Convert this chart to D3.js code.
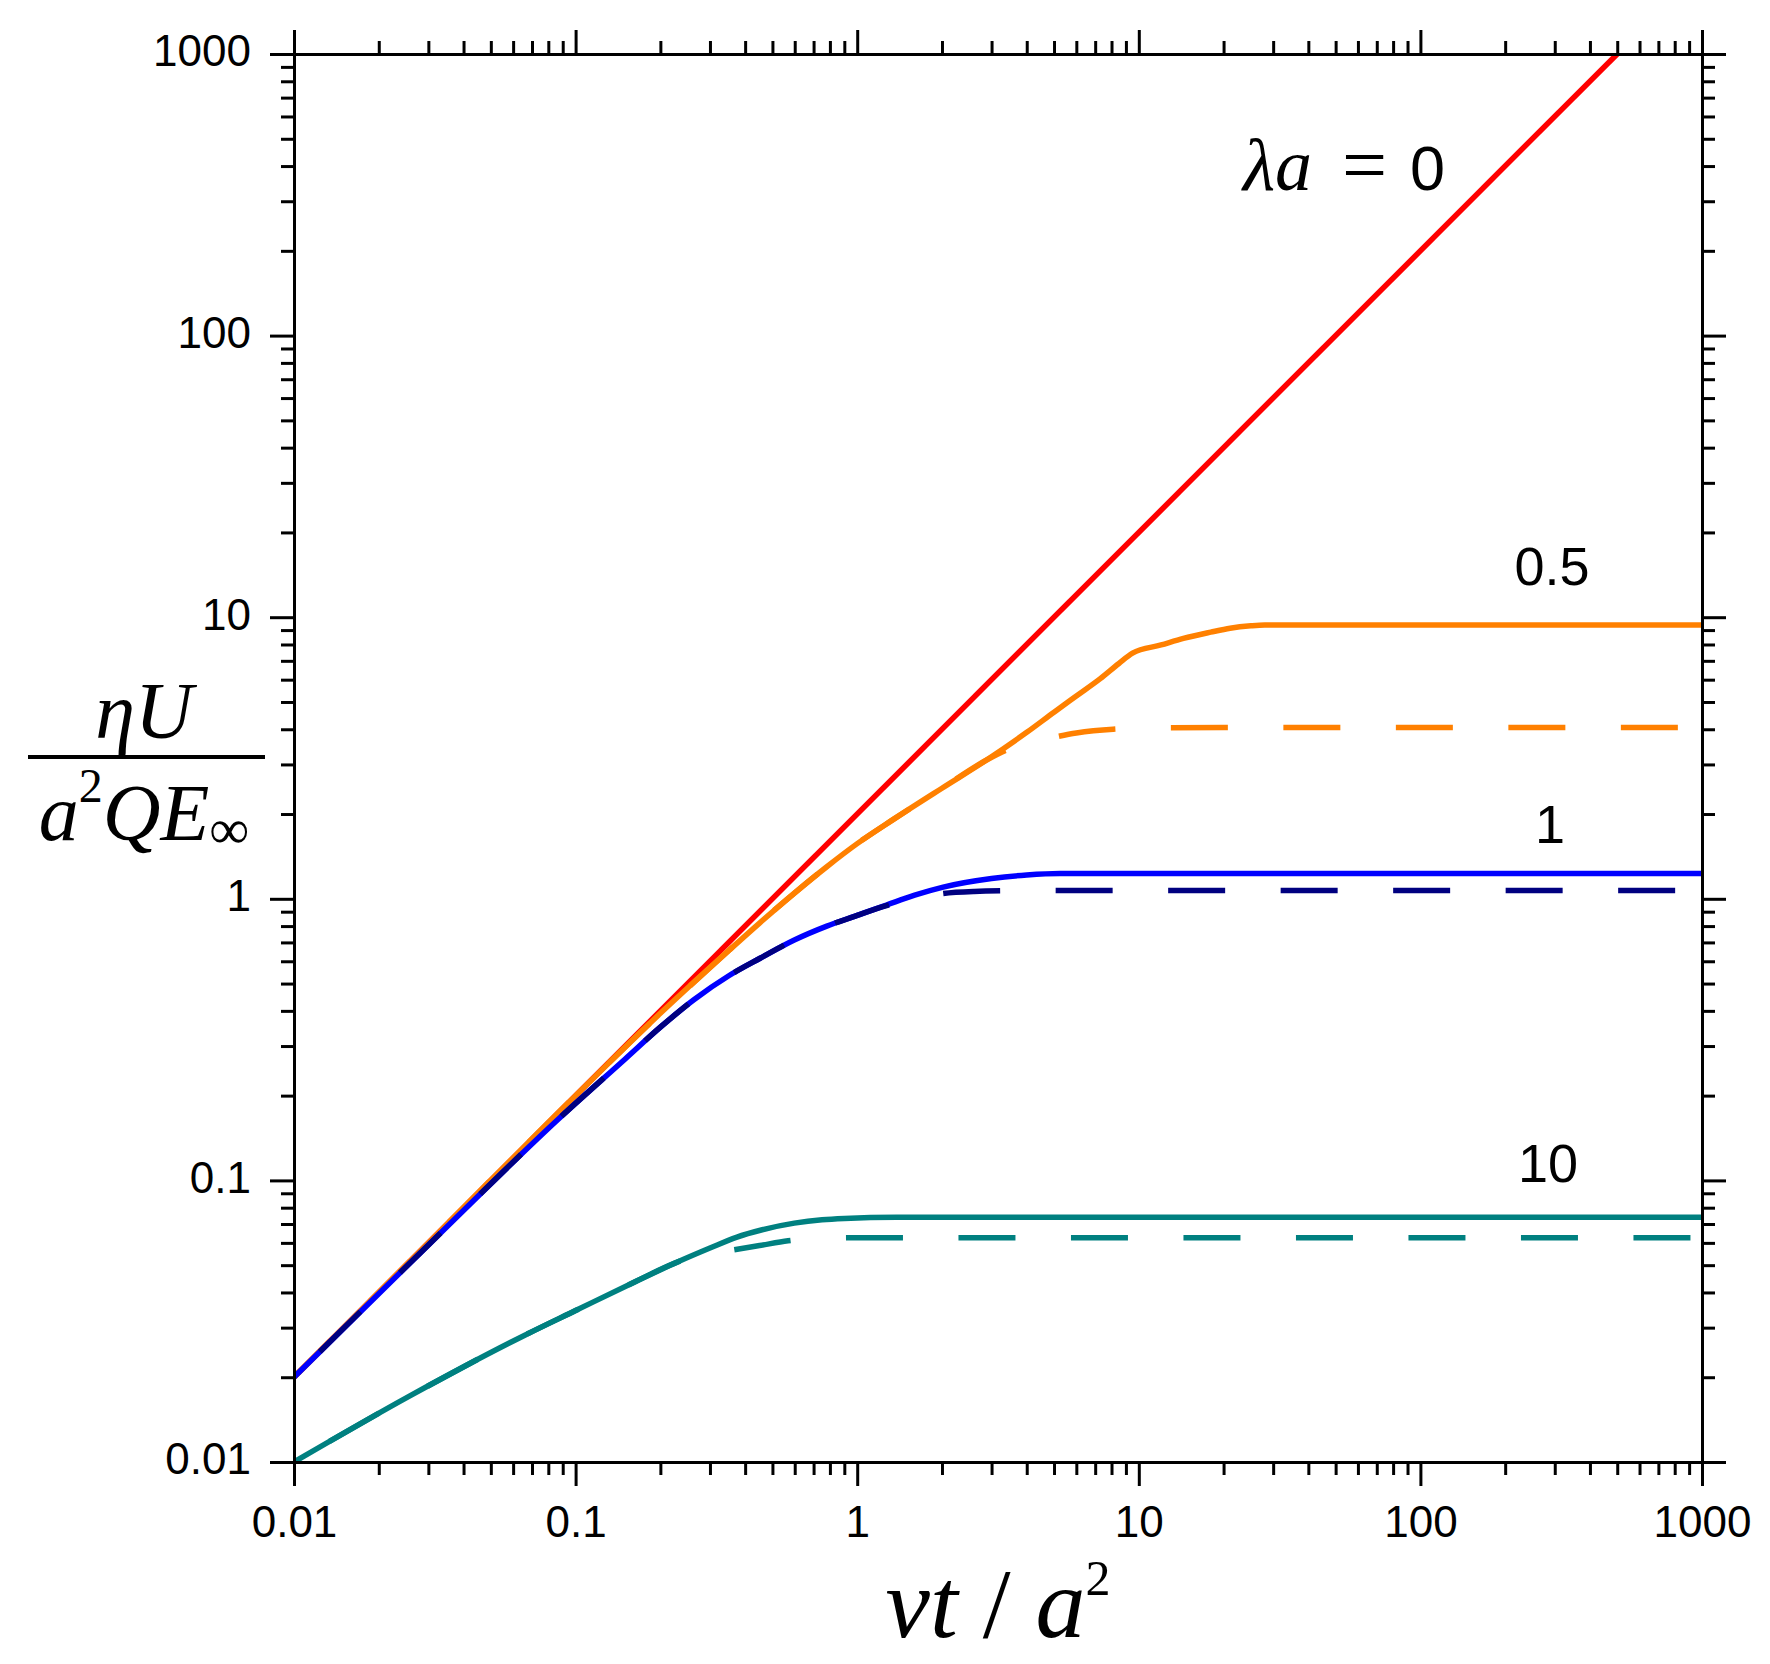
<!DOCTYPE html>
<html>
  <head>
    <title>Log-log velocity curves</title>
    <script src="https://d3js.org/d3.v7.min.js"></script>
    <style>
      body { margin: 0; background: #fff; }
      .axis path, .axis line { stroke: #000; stroke-width: 3; }
      .axis text { font-family: "Liberation Sans", Arial, sans-serif; font-size: 44px; fill: #000; }
      .serif { font-family: "Liberation Serif", "Times New Roman", serif; }
      .sans { font-family: "Liberation Sans", Arial, sans-serif; }
    </style>
  </head>
  <body>
    <div id="chart"></div>
    <script>
      // tick values and labels
      const xTicks = [0.01, 0.1, 1, 10, 100, 1000];
      const xTickLabels = ["0.01", "0.1", "1", "10", "100", "1000"];
      const yTicks = [0.01, 0.1, 1, 10, 100, 1000];
      const yTickLabels = ["0.01", "0.1", "1", "10", "100", "1000"];

      // lambda*a = 0
      const tRed = [0.01, 500];
      const uRed = [0.02, 1000];

      // lambda*a = 0.5
      const tOrange = [0.01, 0.03, 0.1, 0.2, 0.35, 0.45, 0.6, 0.78, 1.0, 1.34, 2.0, 2.88, 4.0, 5.0, 6.0, 7.3, 8.5, 9.5, 12, 14.4, 18, 21.1, 25, 28, 1000];
      const uOrange = [0.02, 0.06, 0.2, 0.392, 0.655, 0.82, 1.05, 1.3, 1.57, 1.91, 2.47, 3.11, 3.9, 4.6, 5.25, 6.05, 6.85, 7.45, 7.97, 8.41, 8.85, 9.14, 9.32, 9.38, 9.38];
      const tOrangeDash = [0.01, 0.03, 0.1, 0.2, 0.35, 0.45, 0.6, 0.78, 1.0, 1.34, 2.0, 2.88, 3.5, 4.0, 4.7, 6.0, 8.1, 12, 20, 1000];
      const uOrangeDash = [0.02, 0.06, 0.2, 0.392, 0.655, 0.82, 1.05, 1.3, 1.57, 1.91, 2.47, 3.11, 3.42, 3.58, 3.7, 3.88, 4.0, 4.05, 4.06, 4.06];

      // lambda*a = 1
      const tBlue = [0.01, 0.03, 0.0885, 0.15, 0.2, 0.263, 0.35, 0.452, 0.598, 0.78, 1.0, 1.27, 1.6, 2.02, 3.0, 4.0, 5.25, 7, 1000];
      const uBlue = [0.02, 0.059, 0.168, 0.27, 0.35, 0.438, 0.533, 0.615, 0.714, 0.8, 0.873, 0.95, 1.03, 1.1, 1.18, 1.215, 1.23, 1.23, 1.23];
      const tBlueDash = [0.01, 0.03, 0.0885, 0.15, 0.2, 0.263, 0.35, 0.452, 0.598, 0.78, 1.0, 1.27, 1.6, 2.02, 2.6, 3.5, 5, 1000];
      const uBlueDash = [0.02, 0.059, 0.168, 0.27, 0.35, 0.438, 0.533, 0.615, 0.714, 0.8, 0.873, 0.945, 1.005, 1.045, 1.062, 1.068, 1.07, 1.07];

      // lambda*a = 10
      const tTeal = [0.01, 0.0256, 0.066, 0.1, 0.16, 0.232, 0.3, 0.372, 0.46, 0.598, 0.75, 0.9, 1.38, 1000];
      const uTeal = [0.01, 0.0171, 0.0282, 0.0345, 0.0433, 0.0515, 0.0575, 0.0628, 0.0668, 0.0705, 0.0725, 0.0733, 0.074, 0.074];
      const tTealDash = [0.01, 0.0256, 0.066, 0.1, 0.16, 0.232, 0.26, 0.3, 0.36, 0.45, 0.568, 0.8, 1.2, 1000];
      const uTealDash = [0.01, 0.0171, 0.0282, 0.0345, 0.0433, 0.0515, 0.0535, 0.0548, 0.0566, 0.0587, 0.061, 0.0624, 0.0626, 0.0626];

      const W = 1770, H = 1664;
      const pL = 294, pR = 1702, pT = 54, pB = 1462;
      const dashLen = 57, dashGap = 55.5;

      const svg = d3.select("#chart").append("svg")
        .attr("width", W).attr("height", H)
        .style("background", "#fff");

      const x = d3.scaleLog().domain([0.01, 1000]).range([pL, pR]);
      const y = d3.scaleLog().domain([0.01, 1000]).range([pB, pT]);

      // minor ticks 2..9 in every decade
      const minor = [];
      xTicks.slice(0, -1).forEach(d => { for (let k = 2; k < 10; k++) minor.push(d * k); });

      const fmtX = d => xTickLabels[xTicks.indexOf(d)];
      const fmtY = d => yTickLabels[yTicks.indexOf(d)];

      // clip for the curves
      svg.append("clipPath").attr("id", "plot")
        .append("rect").attr("x", pL).attr("y", pT)
        .attr("width", pR - pL).attr("height", pB - pT);

      const line = d3.line()
        .x(d => x(d[0])).y(d => y(d[1]))
        .curve(d3.curveMonotoneX);
      const zip = (a, b) => a.map((v, i) => [v, b[i]]);

      // anchor: the t value where one dash should begin (keeps phase like the original)
      const curves = [
        { t: tRed, u: uRed, color: "#ff0000" },
        { t: tOrange, u: uOrange, color: "#ff8000" },
        { t: tOrangeDash, u: uOrangeDash, color: "#ff8000", anchor: 32.6 },
        { t: tBlue, u: uBlue, color: "#0000ff" },
        { t: tBlueDash, u: uBlueDash, color: "#000080", anchor: 2.02 },
        { t: tTeal, u: uTeal, color: "#008080" },
        { t: tTealDash, u: uTealDash, color: "#008080", anchor: 0.912 }
      ];

      const g = svg.append("g").attr("clip-path", "url(#plot)");
      curves.forEach(c => {
        const p = g.append("path")
          .datum(zip(c.t, c.u))
          .attr("fill", "none")
          .attr("stroke", c.color)
          .attr("stroke-width", 5.5)
          .attr("d", line);
        if (c.anchor) {
          const node = p.node(), L = node.getTotalLength(), ax = x(c.anchor);
          let lo = 0, hi = L;
          for (let i = 0; i < 40; i++) {
            const mid = (lo + hi) / 2;
            if (node.getPointAtLength(mid).x < ax) lo = mid; else hi = mid;
          }
          const P = dashLen + dashGap;
          p.attr("stroke-dasharray", `${dashLen},${dashGap}`)
            .attr("stroke-dashoffset", (P - (lo % P)) % P);
        }
      });

      // axes: major with labels on bottom/left, ticks on all four sides
      const addAxis = (axisFn, scale, transform, values, size, fmt) => {
        const a = axisFn(scale).tickValues(values).tickSize(size).tickSizeOuter(0);
        if (fmt) a.tickFormat(fmt).tickPadding(19); else a.tickFormat("");
        return svg.append("g").attr("class", "axis").attr("transform", transform).call(a);
      };

      addAxis(d3.axisBottom, x, `translate(0,${pB})`, minor, 13, null);
      addAxis(d3.axisBottom, x, `translate(0,${pB})`, xTicks, 24, fmtX)
        .selectAll("text").attr("dy", "0.71em").attr("y", 44);
      addAxis(d3.axisTop, x, `translate(0,${pT})`, minor, 13, null);
      addAxis(d3.axisTop, x, `translate(0,${pT})`, xTicks, 24, null);

      addAxis(d3.axisLeft, y, `translate(${pL},0)`, minor, 13, null);
      addAxis(d3.axisLeft, y, `translate(${pL},0)`, yTicks, 24, fmtY)
        .selectAll("text").attr("dy", "0.27em");
      addAxis(d3.axisRight, y, `translate(${pR},0)`, minor, 13, null);
      addAxis(d3.axisRight, y, `translate(${pR},0)`, yTicks, 24, null);

      // series labels
      svg.append("text").attr("class", "serif")
        .attr("x", 1243).attr("y", 190)
        .style("font-size", "74px").style("font-style", "italic")
        .text("λa");
      svg.append("text").attr("class", "serif")
        .attr("x", 1342).attr("y", 192)
        .style("font-size", "80px")
        .text("=");
      svg.append("text").attr("class", "sans")
        .attr("x", 1410).attr("y", 190)
        .style("font-size", "63px")
        .text("0");

      [["0.5", 1552, 585], ["1", 1550, 843], ["10", 1548, 1182]].forEach(([s, lx, ly]) => {
        svg.append("text").attr("class", "sans")
          .attr("x", lx).attr("y", ly)
          .attr("text-anchor", "middle")
          .style("font-size", "54px")
          .text(s);
      });

      // x-axis title
      const xt = svg.append("text").attr("class", "serif")
        .attr("x", (pL + pR) / 2).attr("y", 1637)
        .attr("text-anchor", "middle")
        .style("font-size", "100px");
      xt.append("tspan").style("font-style", "italic").text("νt");
      xt.append("tspan").text(" / ");
      xt.append("tspan").style("font-style", "italic").text("a");
      xt.append("tspan").attr("dy", -42).style("font-size", "50px").text("2");

      // y-axis title as a fraction
      const yc = 144;
      svg.append("text").attr("class", "serif")
        .attr("x", yc).attr("y", 738)
        .attr("text-anchor", "middle")
        .style("font-size", "80px").style("font-style", "italic")
        .text("ηU");
      svg.append("line")
        .attr("x1", 28).attr("x2", 265)
        .attr("y1", 757).attr("y2", 757)
        .attr("stroke", "#000").attr("stroke-width", 4);
      const yt = svg.append("text").attr("class", "serif")
        .attr("x", yc).attr("y", 840)
        .attr("text-anchor", "middle")
        .style("font-size", "80px");
      yt.append("tspan").style("font-style", "italic").text("a");
      yt.append("tspan").attr("dy", -38).style("font-size", "48px").text("2");
      yt.append("tspan").attr("dy", 38).style("font-style", "italic").text("QE");
      yt.append("tspan").attr("dy", 8).style("font-size", "56px").text("∞");
    </script>
  </body>
</html>
